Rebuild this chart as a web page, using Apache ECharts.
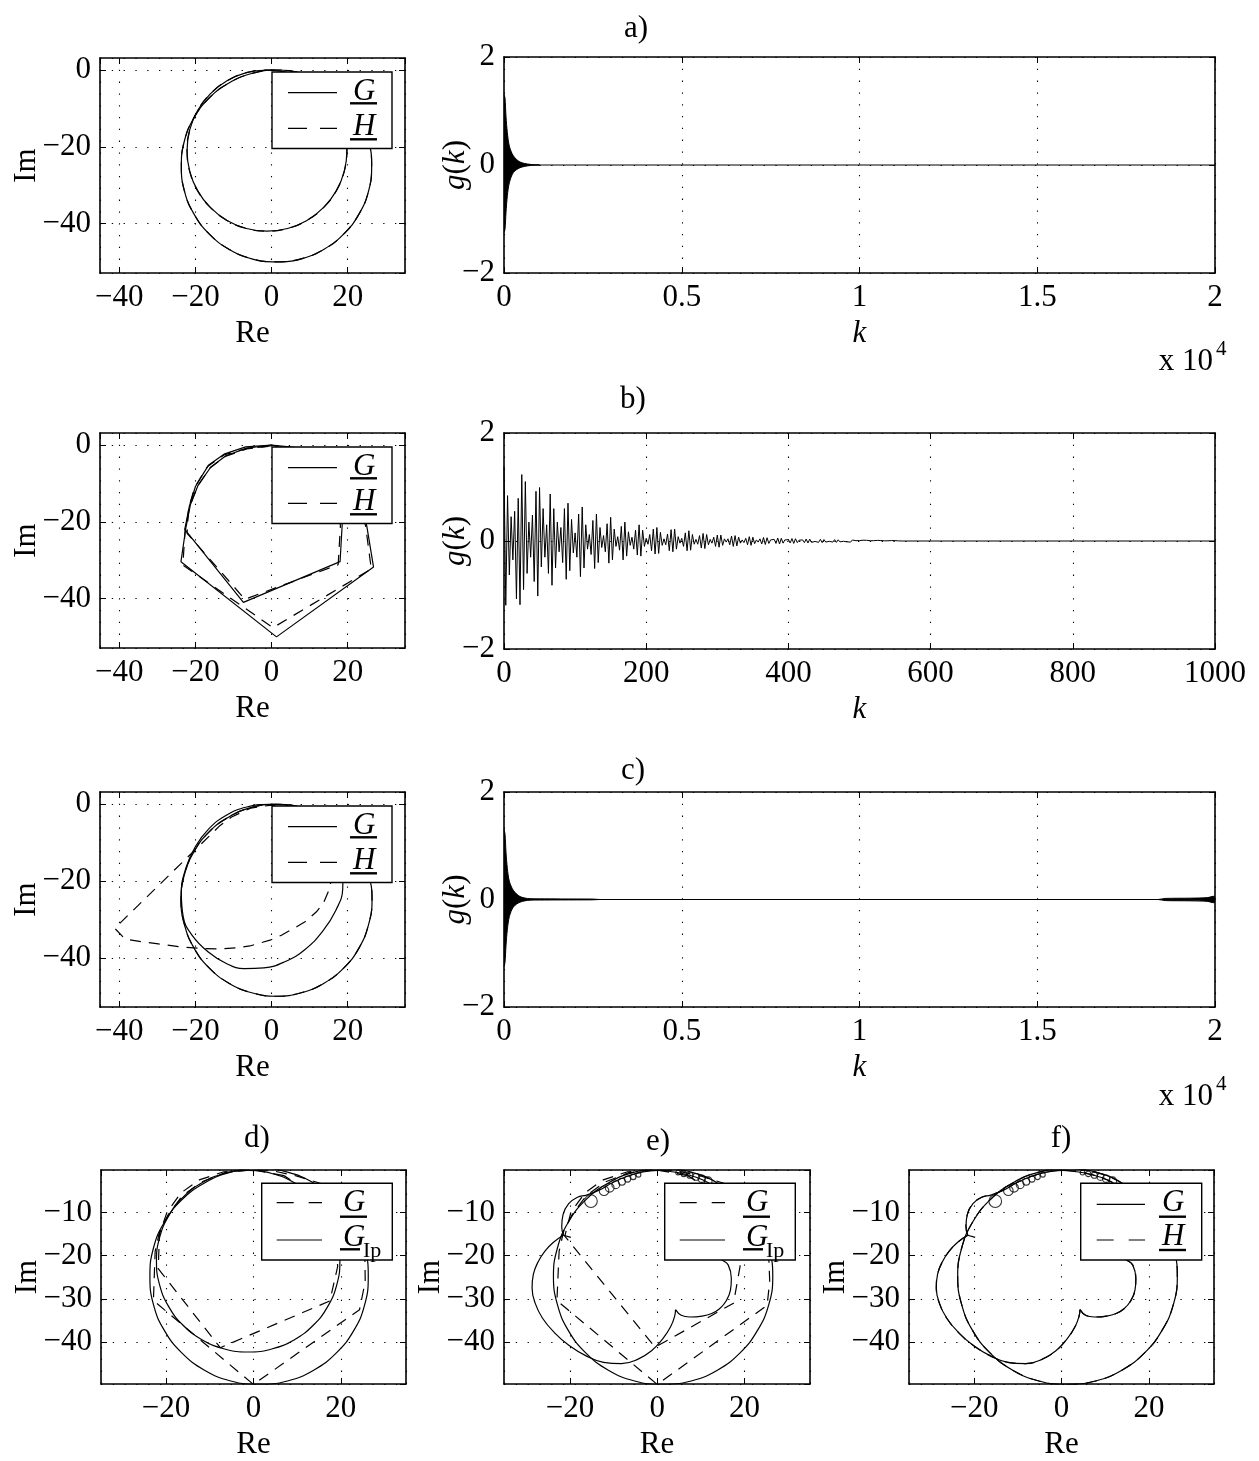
<!DOCTYPE html>
<html><head><meta charset="utf-8">
<script src="https://cdn.jsdelivr.net/npm/echarts@6/dist/echarts.min.js"></script>
<style>html,body{margin:0;padding:0;background:#fff}#c{width:1259px;height:1461px}</style>
</head><body><div id="c"></div>
<script>
// ---------------- DATA ----------------
// a) Nyquist: G (solid) and H (dashed, coincides with G)
const aG_outer = [[23,-12.5],[19,-7.3],[13.8,-3.4],[7.8,-0.9],[1.3,0],[-5.2,-0.9],[-11.2,-3.4],[-16.4,-7.3],[-20.4,-12.5],[-22.9,-18.5],[-23.7,-25],[-22.9,-31.5],[-20.4,-37.5],[-16.4,-42.7],[-11.2,-46.7],[-5.2,-49.2],[1.3,-50],[7.8,-49.2],[13.8,-46.7],[19,-42.7],[23,-37.5],[25.5,-31.5],[26.3,-25],[25.5,-18.5],[23,-12.5]];
const aG_inner = [[17,-10.5],[13.7,-6.2],[9.3,-2.8],[4.2,-0.7],[-1.2,0],[-6.6,-0.7],[-11.7,-2.8],[-16.1,-6.2],[-19.4,-10.5],[-21.5,-15.6],[-22.2,-21],[-21.5,-26.4],[-19.4,-31.5],[-16.1,-35.8],[-11.7,-39.2],[-6.6,-41.3],[-1.2,-42],[4.2,-41.3],[9.3,-39.2],[13.7,-35.8],[17,-31.5],[19.1,-26.4],[19.8,-21],[19.1,-15.6],[17,-10.5]];
const aH_outer = aG_outer;
const aH_inner = aG_inner;
// a) impulse response envelope g(k)
const aK = [0, 28, 56, 94, 150, 263, 450, 732, 1000];
const aUpper = [1.3, 1.24, 0.9, 0.6, 0.35, 0.17, 0.055, 0.012, 0];
const aLower = [-1.25, -1.19, -0.88, -0.57, -0.33, -0.14, -0.05, -0.01, 0];
const aFlat = [[0,0],[20000,0]];

// b) Nyquist polygons
const bG_outer = [[14,-3],[6,-0.6],[0,0],[-6.5,-0.8],[-12,-2.8],[-16,-5.8],[-19.3,-10.5],[-21.3,-15.5],[-22.5,-21.5],[-23.8,-30.4],[1.3,-50],[26.8,-31.8],[25,-21],[22,-10],[14,-3]];
const bG_inner = [[10,-3],[0,0],[-6.8,-0.5],[-12.3,-2.3],[-16.6,-5.3],[-20,-10.8],[-21.6,-16],[-22.8,-22],[-7.4,-41],[18,-30.4],[18.6,-20],[17,-10],[10,-3]];
const bH_outer = [[10,-1.5],[0,-0.2],[-6.5,-1],[-12.2,-3],[-16.2,-6],[-19.5,-10.8],[-21.5,-16],[-22.7,-22],[-23.3,-31.3],[0.4,-47.6],[26.2,-32.3],[24.7,-21],[20,-8],[10,-1.5]];
const bH_inner = [[9,-2],[0,-0.3],[-6.6,-0.9],[-12.5,-2.6],[-16.8,-5.6],[-20.2,-11],[-21.8,-16.5],[-22.2,-23],[-7,-40.2],[17.5,-31.2],[18.1,-21],[16,-9],[9,-2]];
// b) g(k) samples, one every bStep
const bStep = 2.5;
const bVals = [1.38,-1.19,0.84,-0.63,0.45,-0.35,0.55,-1.07,0.79,-1.18,1.23,-0.9,1.1,-0.6,0.35,-0.3,0.48,-0.75,0.92,-1.02,
0.99,-0.48,0.6,-0.3,0.3,-0.6,0.87,-0.82,0.6,-0.5,0.35,-0.2,0.25,-0.4,0.6,-0.71,0.7,-0.55,0.4,-0.22,
0.15,-0.3,0.5,-0.66,0.63,-0.5,0.3,-0.15,0.12,-0.25,0.38,-0.51,0.5,-0.4,0.25,-0.12,0.1,-0.2,0.32,-0.41,
0.44,-0.35,0.22,-0.1,0.08,-0.17,0.27,-0.35,0.35,-0.28,0.17,-0.08,0.07,-0.15,0.2,-0.26,0.3,-0.28,0.2,-0.1,
0.05,-0.06,0.12,-0.18,0.22,-0.24,0.25,-0.23,0.16,-0.08,0.04,-0.07,0.13,-0.18,0.21,-0.2,0.22,-0.15,0.08,-0.04,
0.05,-0.1,0.15,-0.18,0.19,-0.17,0.12,-0.06,0.03,-0.06,0.1,-0.13,0.14,-0.14,0.12,-0.07,0.03,-0.04,0.07,-0.1,
0.11,-0.115,0.11,-0.08,0.04,-0.02,0.04,-0.07,0.09,-0.1,0.1,-0.09,0.07,-0.04,0.02,-0.03,0.05,-0.07,0.08,-0.08,
0.07,-0.05,0.02,-0.02,0.04,-0.055,0.065,-0.065,0.06,-0.045,0.02,-0.015,0.03,-0.045,0.055,-0.055,0.05,-0.04,0.02,-0.012,
0.025,-0.037,0.045,-0.045,0.042,-0.03,0.015,-0.01,0.02,-0.03,0.037,-0.037,0.034,-0.025,0.012,-0.008,0.016,-0.025,0.03,-0.03,
0.027,-0.02,0.01,-0.006,0.012,-0.02,0.025,-0.025,0.022,-0.016,0.008,-0.005,0.01,-0.016,0.02,-0.02,0.018,-0.013,0.006,-0.004,
0.008,-0.012,0.015,-0.015,0.013,-0.01,0.005,-0.003,0.006,-0.009,0.011,-0.011,0.01,-0.007,0.003,-0.002,0.004,-0.006,0.008,-0.008,
0.007,-0.005,0.002,-0.001,0];
const bTail = [[560,0],[1000,0]];

// c) Nyquist
const cG_outer = [[23,-12.4],[19,-7.2],[13.8,-3.3],[7.8,-0.8],[1.3,0],[-5.2,-0.8],[-11.2,-3.3],[-16.4,-7.2],[-20.4,-12.4],[-22.9,-18.4],[-23.8,-24.8],[-22.9,-31.3],[-20.4,-37.4],[-16.4,-42.6],[-11.2,-46.6],[-5.2,-49.1],[1.3,-50],[7.8,-49.1],[13.8,-46.6],[19,-42.6],[23,-37.4],[25.5,-31.3],[26.4,-24.8],[25.5,-18.4],[23,-12.4]];
const cG_inner = [[12,-3.5],[6,-0.8],[0,0],[-6.5,-0.7],[-12,-2.9],[-16.5,-6.4],[-20,-11],[-22.5,-16.6],[-23.7,-23],[-23.2,-29.3],[-20.8,-34.2],[-16.7,-38.4],[-12,-41.4],[-7.2,-42.8],[-2,-42.6],[3.5,-41],[8.8,-37.8],[13.5,-33],[16.9,-27.6],[18.7,-22],[18.8,-16],[17,-9.5],[12,-3.5]];
const cH_outer = cG_outer;
const cH_inner = [[6,-1.5],[0,-0.2],[-5.5,-1],[-10.5,-3.3],[-13.5,-5.5],[-41.2,-32.3],[-38.5,-35.1],[-34.2,-35.8],[-30.2,-36.3],[-24.1,-37.1],[-18,-37.6],[-13.6,-37.7],[-9.2,-37.4],[-5.7,-36.9],[-0.4,-35.4],[2.6,-34.1],[6.6,-31.9],[8.8,-30.6],[11.8,-28],[13.6,-25.8],[14.9,-22.8],[15.5,-20.6],[15.5,-15],[12,-6],[6,-1.5]];
// c) impulse response envelope
const cK = [0, 28, 56, 94, 150, 263, 450, 732, 1000, 1600, 2500, 2700, 18400, 18600, 19300, 19800, 19950, 20000];
const cUpper = [1.3, 1.22, 0.88, 0.58, 0.34, 0.17, 0.055, 0.015, 0.012, 0.01, 0.008, 0, 0, 0.02, 0.025, 0.035, 0.06, 0.05];
const cLower = [-1.25, -1.17, -0.86, -0.56, -0.32, -0.14, -0.05, -0.012, -0.01, -0.008, -0.006, 0, 0, -0.02, -0.025, -0.035, -0.06, -0.05];
const cFlat = [[0,0],[20000,0]];

// d) Nyquist: G (dashed polygon) and G_Ip (solid)
const dGIp_outer = [[23,-12.3],[19,-7.1],[13.8,-3.2],[7.8,-0.7],[1.3,0.2],[-5.2,-0.7],[-11.2,-3.2],[-16.4,-7.1],[-20.4,-12.3],[-22.9,-18.3],[-23.7,-24.8],[-22.9,-31.3],[-20.4,-37.3],[-16.4,-42.5],[-11.2,-46.5],[-5.2,-49],[1.3,-49.8],[7.8,-49],[13.8,-46.5],[19,-42.5],[23,-37.3],[25.5,-31.3],[26.3,-24.8],[25.5,-18.3],[23,-12.3]];
const dGIp_inner = [[17,-10.8],[13.7,-6.5],[9.3,-3.1],[4.2,-1],[-1.2,-0.3],[-6.6,-1],[-11.7,-3.1],[-16.1,-6.5],[-19.4,-10.8],[-21.5,-15.9],[-22.2,-21.3],[-21.5,-26.7],[-19.4,-31.8],[-16.1,-36.1],[-11.7,-39.5],[-6.6,-41.6],[-1.2,-42.3],[4.2,-41.6],[9.3,-39.5],[13.7,-36.1],[17,-31.8],[19.1,-26.7],[19.8,-21.3],[19.1,-15.9],[17,-10.8]];
const dG_outer = [[16,-3.5],[10,-1.6],[4,-0.3],[0,-0.1],[-6.5,-0.8],[-12,-3],[-16.3,-6.2],[-19.5,-10.5],[-21.5,-14.5],[-22.5,-19],[-22.9,-30.4],[0,-49.8],[24.3,-32.5],[25.6,-26],[25.5,-18],[22,-8],[16,-3.5]];
const dG_inner = [[7,-1.5],[0,-0.2],[-6.8,-0.6],[-12.4,-2.5],[-16.6,-5.5],[-19.8,-10],[-21.5,-15],[-21.8,-23],[-7.6,-41.3],[17.5,-30.5],[19.3,-22.5],[18.5,-14],[14,-6],[7,-1.5]];

// e) Nyquist: G (dashed polygon) and G_Ip (solid, with ringing loops)
const eGIp_circle = [[23,-12.3],[19,-7.1],[13.8,-3.2],[7.8,-0.7],[1.3,0.1],[-5.2,-0.7],[-11.2,-3.2],[-16.4,-7.1],[-20.4,-12.3],[-22.9,-18.3],[-23.8,-24.8],[-22.9,-31.3],[-20.4,-37.3],[-16.4,-42.5],[-11.2,-46.5],[-5.2,-49],[1,-49.8],[7.8,-49],[13.8,-46.5],[19,-42.5],[23,-37.3],[25.6,-31.3],[26.5,-24.8],[25.6,-18.3],[23,-12.3]];
const eGIp_loop = [[-21.5,-15.3],[-23.8,-16.9],[-25.7,-18.9],[-27.3,-21.4],[-28.4,-24.3],[-28.7,-27.5],[-28,-31],[-26.3,-34.5],[-23.6,-37.8],[-20.2,-40.8],[-16.3,-43.2],[-12.3,-44.7],[-8.2,-45],[-4.5,-44],[-1.3,-42],[1.3,-39.2],[3.1,-36.4],[4,-34],[4.2,-32.5]];
const eGIp_bulge = [[4.2,-32.5],[5.5,-33.8],[7.5,-34.2],[10.3,-34],[12.5,-33.4],[14.3,-32.3],[15.8,-30.5],[16.8,-28],[17,-25.3],[16.3,-22.2],[14.9,-21],[13,-19.8]];
const eGIp_top = [[-21.5,-15.3],[-21.9,-13.3],[-21.6,-10.5],[-20.3,-8],[-18.3,-6.5],[-16.2,-6],[-13.2,-4.8],[-10.2,-3.1],[-7,-1.7],[-3.5,-0.7],[0,-0.3],[3.5,-0.6],[7,-1.3],[10.5,-2.5],[14,-4.5]];
const eGIp_tail = [[-21.5,-15.3],[-19.8,-15.8]];
// ringing loops: [Re, Im, loop radius]
const eLoops = [[-15.2,-7.4,1.45],[-12.2,-5,1.1],[-10.9,-4.3,1.0],[-9.5,-3.6,0.9],[-8.1,-2.9,0.8],[-6.8,-2.3,0.7],[-5.5,-1.8,0.62],[-4.3,-1.3,0.55],[4.8,-0.8,0.55],[6.1,-1.1,0.62],[7.5,-1.4,0.7],[8.9,-1.8,0.78],[10.2,-2.2,0.85],[11.7,-2.7,0.9]];
const eG_outer = [[16,-3.5],[10,-1.6],[4,-0.3],[0,-0.1],[-6.5,-0.8],[-12,-3],[-16.3,-6.2],[-19.5,-10.5],[-21.5,-14.5],[-22.5,-19],[-23,-30.4],[0,-49.8],[25.2,-31.5],[25.8,-26],[25.5,-18],[22,-8],[16,-3.5]];
const eG_inner = [[7,-1.5],[0,-0.2],[-6.8,-0.6],[-12.4,-2.5],[-16.6,-5.5],[-19.8,-10],[-21.2,-15.5],[-0.5,-41.2],[17.5,-31],[19,-22.5],[18.5,-14],[14,-6],[7,-1.5]];

// f) Nyquist: G (solid) and H (dashed, coincides)
const fG_circle = eGIp_circle, fG_loop = eGIp_loop, fG_bulge = eGIp_bulge, fG_top = eGIp_top, fG_tail = eGIp_tail, fLoops = eLoops;

// ---------------- LAYOUT ----------------
const FONT = '"Liberation Serif","Times New Roman",serif';
const FS = 31;
const panels = [
 {left:100, top:58,   width:305, height:215, xr:[-45.07,35.06], yr:[-52.9,3.13], xs:4, ys:3, nyq:true},
 {left:504, top:57,   width:711, height:216, xr:[0,20000], yr:[-2,2], xi:5000, yi:2, scale:1e4},
 {left:100, top:433,  width:305, height:215, xr:[-45.07,35.06], yr:[-52.9,3.13], xs:4, ys:3, nyq:true},
 {left:504, top:433,  width:711, height:216, xr:[0,1000], yr:[-2,2], xi:200, yi:2},
 {left:100, top:792,  width:305, height:215, xr:[-45.07,35.06], yr:[-52.8,3.2], xs:4, ys:3, nyq:true},
 {left:504, top:792,  width:711, height:215, xr:[0,20000], yr:[-2,2], xi:5000, yi:2, scale:1e4},
 {left:101, top:1170, width:305, height:216, xr:[-34.9,34.94], yr:[-49.7,-0.2], xs:3, ys:5, nyq:true},
 {left:504, top:1170, width:306, height:216, xr:[-35.14,35.04], yr:[-49.7,-0.2], xs:3, ys:5, nyq:true},
 {left:909, top:1170, width:305, height:216, xr:[-34.95,34.9], yr:[-49.7,-0.2], xs:3, ys:5, nyq:true}
];

const fmt = p => v => { let x = p.scale ? v / p.scale : v; let s = String(+x.toFixed(6)); return s.replace('-', '\u2212'); };
const grid = [], xAxis = [], yAxis = [];
const lblStyle = {fontFamily: FONT, fontSize: FS, color: '#000'};
const nameStyle = {fontFamily: FONT, fontSize: FS, color: '#000'};
const tickCommon = {show: true, inside: true, length: 6, lineStyle: {color: '#000', width: 1}};
const lineCommon = {show: true, onZero: false, lineStyle: {color: '#000', width: 1.6}};
const splitCommon = {show: true, lineStyle: {color: '#000', width: 1.1, type: [1.3, 10.5]}};
panels.forEach((p, i) => {
  grid.push({left: p.left, top: p.top, width: p.width, height: p.height, containLabel: false});
  const xb = {type: 'value', gridIndex: i, min: p.xr[0], max: p.xr[1], position: 'bottom', axisLine: lineCommon, axisTick: tickCommon, splitLine: splitCommon,
    nameLocation: 'middle', nameMoveOverlap: false,
    axisLabel: Object.assign({margin: 9, formatter: fmt(p)}, lblStyle)};
  const yl = {type: 'value', gridIndex: i, min: p.yr[0], max: p.yr[1], position: 'left', axisLine: lineCommon, axisTick: tickCommon, splitLine: splitCommon,
    nameLocation: 'middle', nameMoveOverlap: false,
    axisLabel: Object.assign({margin: 9, formatter: fmt({})}, lblStyle)};
  if (p.nyq) {
    xb.splitNumber = p.xs; yl.splitNumber = p.ys;
    xb.axisLabel.showMinLabel = false; xb.axisLabel.showMaxLabel = false;
    yl.axisLabel.showMinLabel = false; yl.axisLabel.showMaxLabel = false;
    xb.name = 'Re'; xb.nameGap = 45; xb.nameTextStyle = nameStyle;
    yl.name = 'Im'; yl.nameGap = 58; yl.nameTextStyle = nameStyle;
  } else {
    xb.interval = p.xi; yl.interval = p.yi;
    xb.name = 'k'; xb.nameGap = 45; xb.nameTextStyle = Object.assign({fontStyle: 'italic'}, nameStyle);
    yl.name = '{i|g}({i|k})'; yl.nameGap = 33;
    yl.nameTextStyle = Object.assign({rich: {i: {fontFamily: FONT, fontSize: FS, fontStyle: 'italic', color: '#000'}}}, nameStyle);
  }
  const xt = Object.assign({}, xb, {position: 'top', name: '', axisLabel: {show: false}, splitLine: {show: false}});
  const yr = Object.assign({}, yl, {position: 'right', name: '', axisLabel: {show: false}, splitLine: {show: false}});
  xAxis.push(xb, xt); yAxis.push(yl, yr);
});

const series = [];
function curve(pi, data, dashed, smooth, w) {
  series.push({type: 'line', xAxisIndex: 2 * pi, yAxisIndex: 2 * pi, data: data, symbol: 'none', showSymbol: false,
    smooth: smooth ? 0.45 : false, clip: true, silent: true, z: dashed ? 3 : 4,
    lineStyle: {color: '#000', width: w || 1.2, type: dashed ? [11, 8] : 'solid'}});
}
function area(pi, ks, vals) {
  series.push({type: 'line', xAxisIndex: 2 * pi, yAxisIndex: 2 * pi, data: ks.map((k, j) => [k, vals[j]]), symbol: 'none',
    smooth: 0.3, clip: true, silent: true, lineStyle: {color: '#000', width: 1}, areaStyle: {color: '#000', opacity: 1}});
}
function loops(pi, data, pxPerUnit) {
  series.push({type: 'scatter', xAxisIndex: 2 * pi, yAxisIndex: 2 * pi, data: data, symbol: 'circle', silent: true, z: 5,
    symbolSize: v => v[2] * 2 * pxPerUnit, itemStyle: {color: 'rgba(255,255,255,0)', borderColor: '#000', borderWidth: 1.1}});
}
// a
curve(0, aH_outer, true, true); curve(0, aH_inner, true, true);
curve(0, aG_outer, false, true); curve(0, aG_inner, false, true);
curve(1, aFlat, false, false, 1); area(1, aK, aUpper); area(1, aK, aLower);
// b
curve(2, bH_outer, true, false); curve(2, bH_inner, true, false);
curve(2, bG_outer, false, false); curve(2, bG_inner, false, false);
curve(3, bVals.map((v, j) => [j * bStep, v]), false, false, 1); curve(3, bTail, false, false, 1);
// c
curve(4, cH_outer, true, true); curve(4, cH_inner, true, false);
curve(4, cG_outer, false, true); curve(4, cG_inner, false, true);
curve(5, cFlat, false, false, 1); area(5, cK, cUpper); area(5, cK, cLower);
// d
curve(6, dG_outer, true, false); curve(6, dG_inner, true, false);
curve(6, dGIp_outer, false, true); curve(6, dGIp_inner, false, true);
// e
curve(7, eG_outer, true, false); curve(7, eG_inner, true, false);
curve(7, eGIp_circle, false, true); curve(7, eGIp_loop, false, true); curve(7, eGIp_bulge, false, true);
curve(7, eGIp_top, false, true); curve(7, eGIp_tail, false, false);
loops(7, eLoops, 4.36);
// f
[fG_circle, fG_loop, fG_bulge, fG_top].forEach(d => curve(8, d, true, true));
curve(8, fG_circle, false, true); curve(8, fG_loop, false, true); curve(8, fG_bulge, false, true);
curve(8, fG_top, false, true); curve(8, fG_tail, false, false);
loops(8, fLoops, 4.37);

// ---------------- GRAPHICS (legends, labels) ----------------
const g = [];
function txt(x, y, s, size, italic, align) {
  g.push({type: 'text', z: 200, style: {text: s, x: x, y: y, fill: '#000',
    font: (italic ? 'italic ' : '') + size + 'px ' + FONT, textAlign: align || 'left', textVerticalAlign: 'middle', align: align || 'left', verticalAlign: 'middle'}});
}
function ln(x1, y1, x2, y2, w, dash) {
  g.push({type: 'line', z: 200, shape: {x1: x1, y1: y1, x2: x2, y2: y2}, style: {stroke: '#000', lineWidth: w, lineDash: dash || null}});
}
function box(x, y, w, h) {
  g.push({type: 'rect', z: 190, shape: {x: x, y: y, width: w, height: h}, style: {fill: '#fff', stroke: '#000', lineWidth: 1.4}});
}
// legend: rows = [{dash, letter, sub}]
function legend(L, T, o, rows) {
  box(L + o.bx, T + o.by, o.bw, o.bh);
  rows.forEach((r, j) => {
    const ly = T + o.ly[j], ty = T + o.ty[j], uy = T + o.uy[j];
    ln(L + o.l0, ly, L + o.l1, ly, 1.2, r.dash ? o.dash : null);
    txt(L + o.tx, ty, r.letter, 31, true);
    const uw = r.letter === 'G' && r.sub ? 20 : 27;
    ln(L + o.tx - 3, uy, L + o.tx - 3 + uw, uy, 2.4);
    if (r.sub) txt(L + o.tx + 20, ty + 13, r.sub, 22, false);
  });
}
const legA = {bx: 172, by: 14, bw: 120, bh: 76.5, l0: 188, l1: 237, ly: [34.7, 70.3], ty: [33.7, 69.3], uy: [45.3, 81.3], tx: 253, dash: [19, 13]};
legend(100, 58, legA, [{dash: false, letter: 'G'}, {dash: true, letter: 'H'}]);
legend(100, 433, legA, [{dash: false, letter: 'G'}, {dash: true, letter: 'H'}]);
legend(100, 792, legA, [{dash: false, letter: 'G'}, {dash: true, letter: 'H'}]);
const legD = {bx: 160.7, by: 13.3, bw: 130.6, bh: 76.7, l0: 175.7, l1: 221, ly: [32.7, 70], ty: [33, 68], uy: [46.7, 79.3], tx: 242, dash: [17, 15]};
legend(101, 1170, legD, [{dash: true, letter: 'G'}, {dash: false, letter: 'G', sub: 'Ip'}]);
legend(504, 1170, legD, [{dash: true, letter: 'G'}, {dash: false, letter: 'G', sub: 'Ip'}]);
const legF = {bx: 171.7, by: 13.3, bw: 121, bh: 76.7, l0: 187.7, l1: 236, ly: [34.3, 70], ty: [33, 67], uy: [46.7, 80], tx: 253, dash: [17, 15]};
legend(909, 1170, legF, [{dash: false, letter: 'G'}, {dash: true, letter: 'H'}]);

// panel labels
txt(636, 29, 'a)', FS, false, 'center');
txt(633, 400, 'b)', FS, false, 'center');
txt(633, 771, 'c)', FS, false, 'center');
txt(257, 1139, 'd)', FS, false, 'center');
txt(658, 1142, 'e)', FS, false, 'center');
txt(1061, 1139, 'f)', FS, false, 'center');
// exponent notes
txt(1213, 362, 'x 10', FS, false, 'right'); txt(1216, 349, '4', 21, false, 'left');
txt(1213, 1097, 'x 10', FS, false, 'right'); txt(1216, 1084, '4', 21, false, 'left');

const chart = echarts.init(document.getElementById('c'), null, {renderer: 'canvas'});
chart.setOption({animation: false, backgroundColor: '#fff', grid: grid, xAxis: xAxis, yAxis: yAxis, series: series, graphic: {elements: g}});
</script></body></html>
